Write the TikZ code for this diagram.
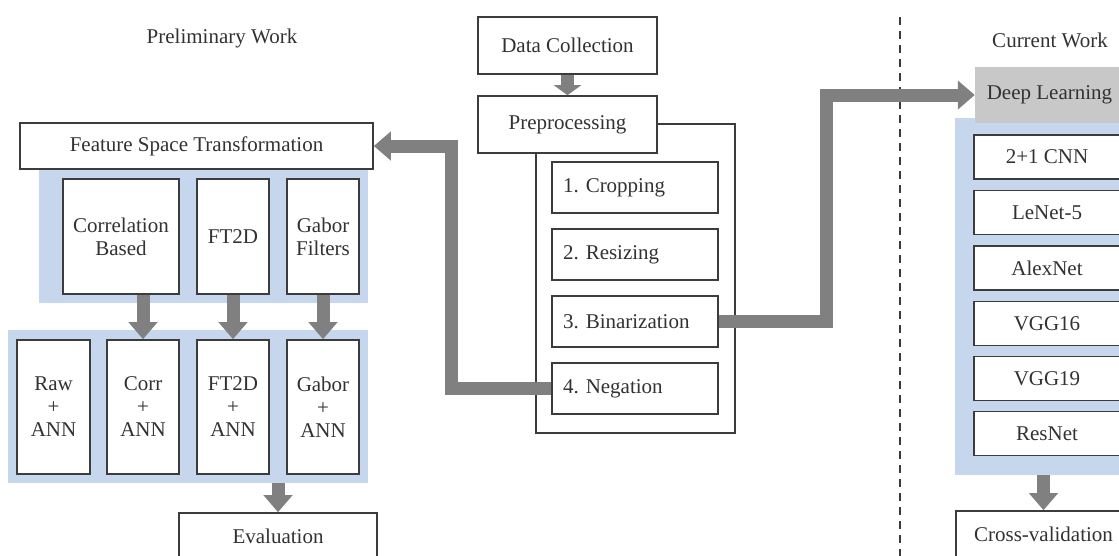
\documentclass[tikz,border=0pt]{standalone}
\usepackage{fontspec}
\setmainfont{Liberation Serif}
\newfontfamily\tnr{Liberation Serif}
\usetikzlibrary{arrows.meta}
\definecolor{panelblue}{RGB}{198,214,236}
\definecolor{fatgray}{RGB}{128,128,128}
\definecolor{bordergray}{RGB}{60,60,60}
\definecolor{txtgray}{RGB}{50,50,50}
\definecolor{dlgray}{RGB}{200,200,200}
\frenchspacing
\begin{document}
\begin{tikzpicture}[x=1pt,y=-1pt,
  every node/.style={font=\tnr\fontsize{21}{23}\selectfont, text=txtgray},
  box/.style={draw=bordergray, line width=1.6pt, fill=white, inner sep=0pt, align=center},
  stepbox/.style={draw=bordergray, line width=1.6pt, fill=white, text width=144pt, inner sep=0pt, inner xsep=11pt, minimum height=51pt, align=left},
  panel/.style={fill=panelblue, draw=none, inner sep=0pt},
  fat/.style={draw=fatgray, line width=13pt, -{Triangle[length=17pt,width=28pt]}},
  fatshort/.style={draw=fatgray, line width=13pt, -{Triangle[length=10pt,width=27pt]}},
  divider/.style={draw=bordergray, line width=1.5pt, dash pattern=on 8pt off 6pt},
  frame/.style={draw=bordergray, line width=1.6pt, fill=white, inner sep=0pt},
]
\useasboundingbox (0,0) rectangle (1119,555);

% titles
\node (prelim) at (222,38) {Preliminary Work};
\node (curr) at (1050,40) {Current Work};

% divider
\coordinate (dtop) at (900,17);
\coordinate (dbot) at (900,560);
\draw[divider] (dtop) -- (dbot);

% panels
\node[panel, minimum width=329pt, minimum height=134pt] (p1) at (203.5,236) {};
\node[panel, minimum width=360pt, minimum height=153pt] (p2) at (188,406.5) {};
\node[panel, minimum width=186pt, minimum height=357pt] (p3) at (1048,296.5) {};

% left column
\node[box, minimum width=353pt, minimum height=46pt] (fst) at (196.5,146) {Feature Space Transformation};
\node[box, minimum width=116pt, minimum height=115pt] (cb) at (121,236.5) {Correlation\\Based};
\node[box, minimum width=72pt, minimum height=115pt] (ft) at (233,236.5) {FT2D};
\node[box, minimum width=72pt, minimum height=115pt] (gf) at (323,236.5) {Gabor\\Filters};

\node[box, minimum width=73pt, minimum height=134pt] (raw) at (53.5,407) {Raw\\+\\ANN};
\node[box, minimum width=72pt, minimum height=134pt] (corr) at (143,407) {Corr\\+\\ANN};
\node[box, minimum width=72pt, minimum height=134pt] (ft2) at (233,407) {FT2D\\+\\ANN};
\node[box, minimum width=72pt, minimum height=134pt] (gab) at (323,407) {Gabor\\+\\ANN};

\node[box, minimum width=198pt, minimum height=46pt] (eval) at (278,536) {Evaluation};

% middle column
\node[frame, minimum width=199pt, minimum height=309pt] (pframe) at (635.5,278.5) {};
\node[box, minimum width=179pt, minimum height=57pt] (dc) at (567.5,45.5) {Data Collection};
\node[box, minimum width=179pt, minimum height=57pt] (pre) at (567.5,124.5) {Preprocessing};
\node[stepbox] (crop) at (635,187.5) {1. Cropping};
\node[stepbox] (res) at (635,254.5) {2. Resizing};
\node[stepbox] (bin) at (635,321.5) {3. Binarization};
\node[stepbox] (neg) at (635,388.5) {4. Negation};

% right column
\node[fill=dlgray, draw=none, inner sep=0pt, minimum width=149pt, minimum height=56pt] (dl) at (1049.5,95) {Deep Learning};
\node[box, minimum width=146pt, minimum height=44pt] (cnn) at (1047,157) {2+1 CNN};
\node[box, minimum width=146pt, minimum height=44pt] (lenet) at (1047,212.5) {LeNet-5};
\node[box, minimum width=146pt, minimum height=44pt] (alex) at (1047,268) {AlexNet};
\node[box, minimum width=146pt, minimum height=44pt] (vgg16) at (1047,323.5) {VGG16};
\node[box, minimum width=146pt, minimum height=44pt] (vgg19) at (1047,378.5) {VGG19};
\node[box, minimum width=146pt, minimum height=44pt] (resnet) at (1047,433.5) {ResNet};
\node[box, minimum width=175pt, minimum height=46pt] (cv) at (1043.5,534) {Cross-validation};

% connectors
\draw[fatshort] (dc.south) -- (pre.north);
\draw[fat] (neg.west) -- ++(-100,0) |- (fst.east);
\draw[fat] (bin.east) -- ++(108,0) |- (dl.west);
\draw[fat] (cb.south -| corr.north) -- (corr.north);
\draw[fat] (ft.south -| ft2.north) -- (ft2.north);
\draw[fat] (gf.south -| gab.north) -- (gab.north);
\draw[fat] (p2.south -| eval.north) -- (eval.north);
\draw[fat] (p3.south -| cv.north) -- (cv.north);
\end{tikzpicture}
\end{document}
